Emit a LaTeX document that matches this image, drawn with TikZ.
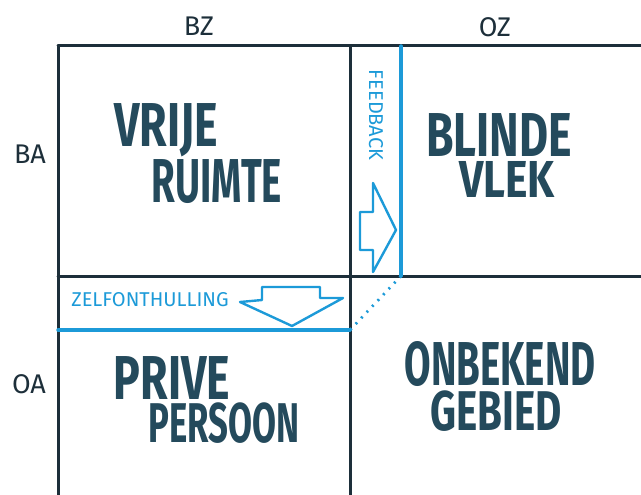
\documentclass[tikz,border=0pt]{standalone}
\usepackage{fontspec}
\usepackage{tikz}
\newfontfamily\handfont[FakeStretch=0.62]{Fira Sans}
\newfontfamily\handwide[FakeStretch=0.72]{Fira Sans}
\newfontfamily\handvwide[FakeStretch=0.82]{Fira Sans}
\newfontfamily\labelfont{Fira Sans}
\definecolor{ink}{HTML}{244A5C}
\definecolor{grid}{HTML}{1D2F3A}
\definecolor{marker}{HTML}{1C9AD8}

\begin{document}
\begin{tikzpicture}[x=1pt,y=-1pt,
  big/.style={font=\handfont\bfseries\fontsize{62}{62}\selectfont,text=ink,inner sep=0pt},
  wide/.style={font=\handwide\bfseries\fontsize{#1}{#1}\selectfont},
  small/.style={font=\labelfont\fontsize{27}{27}\selectfont,text=grid,inner sep=0pt},
  bluetext/.style={font=\labelfont\fontsize{20}{20}\selectfont,text=marker,inner sep=0pt},
  gridline/.style={draw=grid,line width=3pt,line cap=round},
  blueline/.style={draw=marker,line width=3.4pt,line cap=round},
  bluearrow/.style={draw=marker,line width=2.4pt,line join=round}]
\useasboundingbox (0,0) rectangle (641,495);
% corners of the window
\coordinate (tl) at (58,46);
\coordinate (tr) at (641,46);
\coordinate (tm) at (350,46);
\coordinate (bl) at (58,495);
\coordinate (bm) at (350,495);
\coordinate (ml) at (58,276);
\coordinate (mr) at (641,276);
\coordinate (fb) at (401,46);
\coordinate (fe) at (401,276);
\coordinate (zl) at (58,330);
\coordinate (ze) at (350,330);
% grid
\draw[gridline] (tl) -- (tr);
\draw[gridline] (tl) -- (bl);
\draw[gridline] (tm) -- (bm);
\draw[gridline] (ml) -- (mr);
% blue strips
\draw[blueline] (fb) -- (fe);
\draw[blueline] (zl) -- (ze);
\draw[marker,line width=2.8pt,dash pattern=on 2pt off 6pt] (fe) -- (ze);
% arrows
\draw[bluearrow] (360,212) -- (373,212) -- (373,183) -- (396,230) -- (373,272) -- (373,250) -- (360,250) -- cycle;
\draw[bluearrow] (262,300) -- (262,287) -- (320,287) -- (320,298) -- (343,298) -- (292,326) -- (240,302) -- cycle;
% axis labels
\node[small] (bz) at (199,26) {BZ};
\node[small] (oz) at (495,27) {OZ};
\node[small] (ba) at (30,154) {BA};
\node[small] (oa) at (29,384) {OA};
% strip labels
\node[bluetext,rotate=-90] (feedback) at (376,115) {FEEDBACK};
\node[bluetext] (zelf) at (150,300) {ZELFONTHULLING};
% quadrants
\node[big,wide=62] (vrije) at (166,130) {VRIJE};
\node[big] (ruimte) at (217,182) {RUIMTE};
\node[big,wide=62] (blinde) at (499,135) {BLINDE};
\node[big,font=\handvwide\bfseries\fontsize{52}{52}\selectfont] (vlek) at (507,179) {VLEK};
\node[big,wide=62] (prive) at (172,378) {PRIVE};
\node[big,font=\handfont\bfseries\fontsize{56}{56}\selectfont] (persoon) at (224,423) {PERSOON};
\node[big] (onbekend) at (500,364) {ONBEKEND};
\node[big,wide=56] (gebied) at (496,411) {GEBIED};
\end{tikzpicture}
\end{document}
